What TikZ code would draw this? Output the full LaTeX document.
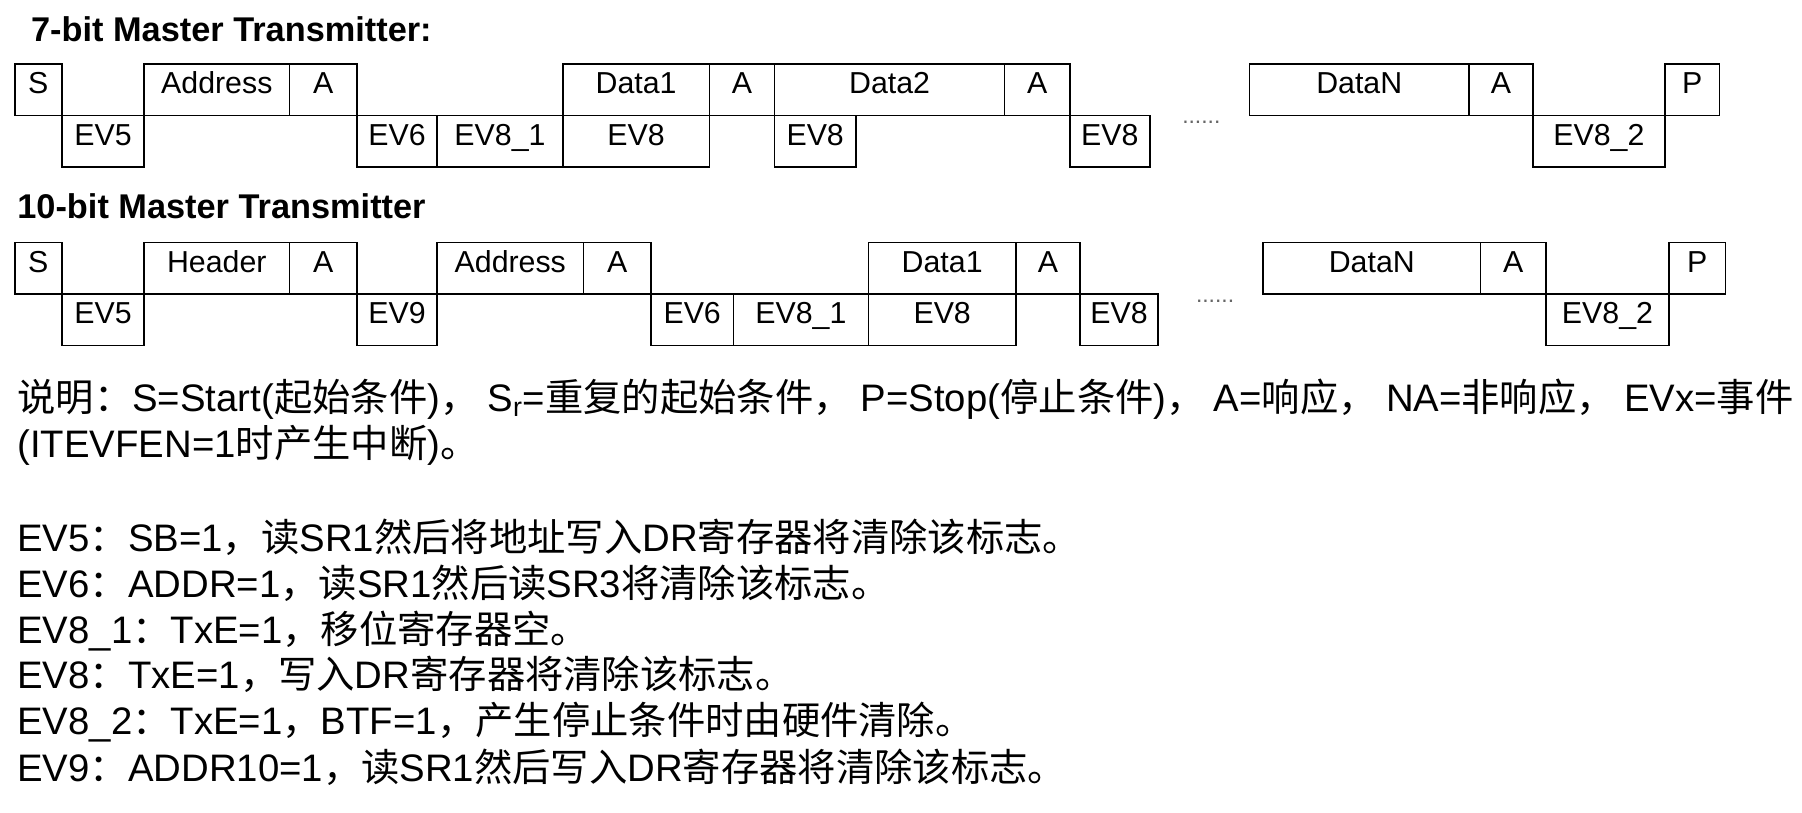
\documentclass[tikz,border=0pt]{standalone}
\usepackage{fontspec}
\setmainfont{Liberation Sans}
\newfontfamily\cjk{Noto Sans CJK SC}
\newcommand{\zh}[1]{{\cjk #1}}
\usetikzlibrary{positioning}
\tikzstyle{slot}=[draw, line width=1.5pt, outer sep=0pt, inner sep=0pt, minimum height=45pt, text height=0.72em, text depth=0pt, font=\fontsize{26.5}{30}\selectfont]
\tikzstyle{hi}=[slot, anchor=south west]
\tikzstyle{lo}=[slot, anchor=north west]
\tikzstyle{heading}=[anchor=base west, inner sep=0pt, font=\fontsize{30}{36}\selectfont\bfseries]
\tikzstyle{note}=[anchor=base west, inner sep=0pt, font=\fontsize{33.5}{40}\selectfont]
\tikzstyle{gap}=[inner sep=0pt, font=\fontsize{20}{20}\selectfont, text=black!60]

\begin{document}
\begin{tikzpicture}[x=1pt, y=-1pt]
\useasboundingbox (0,0) rectangle (1575,710);

\node (title7) [heading] at (27,36) {7-bit Master Transmitter:};

\node (s7) [hi, minimum width=41pt] at (13,101) {S};
\node (evfive7) [lo, minimum width=72pt] at (s7.south east) {EV5};
\node (addr7) [hi, minimum width=127pt] at (evfive7.north east) {Address};
\node (ackaddr7) [hi, minimum width=59pt] at (addr7.south east) {A};
\node (evsix7) [lo, minimum width=70pt] at (ackaddr7.south east) {EV6};
\node (eveightone7) [lo, minimum width=110pt] at (evsix7.north east) {EV8\_1};
\node (dataone7) [hi, minimum width=128pt] at (eveightone7.north east) {Data1};
\node (evdataone7) [lo, minimum width=128pt] at (dataone7.south west) {EV8};
\node (ackone7) [hi, minimum width=57pt] at (dataone7.south east) {A};
\node (datatwo7) [hi, minimum width=201pt] at (ackone7.south east) {Data2};
\node (evdatatwo7) [lo, minimum width=71pt] at (datatwo7.south west) {EV8};
\node (acktwo7) [hi, minimum width=57pt] at (datatwo7.south east) {A};
\node (eveight7) [lo, minimum width=70pt] at (acktwo7.south east) {EV8};
\node (gap7) [gap] at (1050,107) {......};
\node (datan7) [hi, minimum width=192pt] at (1092,101) {DataN};
\node (ackn7) [hi, minimum width=56pt] at (datan7.south east) {A};
\node (eveighttwo7) [lo, minimum width=115pt] at (ackn7.south east) {EV8\_2};
\node (p7) [hi, minimum width=48pt] at (eveighttwo7.north east) {P};

\node (title10) [heading] at (15,191) {10-bit Master Transmitter};

\node (s10) [hi, minimum width=41pt] at (13,257) {S};
\node (evfive10) [lo, minimum width=72pt] at (s10.south east) {EV5};
\node (header10) [hi, minimum width=127pt] at (evfive10.north east) {Header};
\node (ackheader10) [hi, minimum width=59pt] at (header10.south east) {A};
\node (evnine10) [lo, minimum width=70pt] at (ackheader10.south east) {EV9};
\node (addr10) [hi, minimum width=128pt] at (evnine10.north east) {Address};
\node (ackaddr10) [hi, minimum width=59pt] at (addr10.south east) {A};
\node (evsix10) [lo, minimum width=72pt] at (ackaddr10.south east) {EV6};
\node (eveightone10) [lo, minimum width=118pt] at (evsix10.north east) {EV8\_1};
\node (dataone10) [hi, minimum width=129pt] at (eveightone10.north east) {Data1};
\node (evdataone10) [lo, minimum width=129pt] at (dataone10.south west) {EV8};
\node (ackone10) [hi, minimum width=56pt] at (dataone10.south east) {A};
\node (eveight10) [lo, minimum width=68pt] at (ackone10.south east) {EV8};
\node (gap10) [gap] at (1062,263) {......};
\node (datan10) [hi, minimum width=190pt] at (1104,257) {DataN};
\node (ackn10) [hi, minimum width=57pt] at (datan10.south east) {A};
\node (eveighttwo10) [lo, minimum width=108pt] at (ackn10.south east) {EV8\_2};
\node (p10) [hi, minimum width=49pt] at (eveighttwo10.north east) {P};

\node (legend) [note] at (15,360) {\zh{说明：}S=Start(\zh{起始条件})\zh{，}\hspace{8pt}S\textsubscript{r}=\zh{重复的起始条件，}\hspace{8pt}P=Stop(\zh{停止条件})\zh{，}\hspace{8pt}A=\zh{响应，}\hspace{8pt}NA=\zh{非响应，}\hspace{8pt}EVx=\zh{事件}};
\node (legendtwo) [note] at (15,400) {(ITEVFEN=1\zh{时产生中断})\zh{。}};

\node (evfive) [note] at (15,482) {EV5\zh{：}SB=1\zh{，读}SR1\zh{然后将地址写入}DR\zh{寄存器将清除该标志。}};
\node (evsix) [note] at (15,522) {EV6\zh{：}ADDR=1\zh{，读}SR1\zh{然后读}SR3\zh{将清除该标志。}};
\node (eveightone) [note] at (15,562) {EV8\_1\zh{：}TxE=1\zh{，移位寄存器空。}};
\node (eveight) [note] at (15,602) {EV8\zh{：}TxE=1\zh{，写入}DR\zh{寄存器将清除该标志。}};
\node (eveighttwo) [note] at (15,642) {EV8\_2\zh{：}TxE=1\zh{，}BTF=1\zh{，产生停止条件时由硬件清除。}};
\node (evnine) [note] at (15,683) {EV9\zh{：}ADDR10=1\zh{，读}SR1\zh{然后写入}DR\zh{寄存器将清除该标志。}};
\end{tikzpicture}
\end{document}
